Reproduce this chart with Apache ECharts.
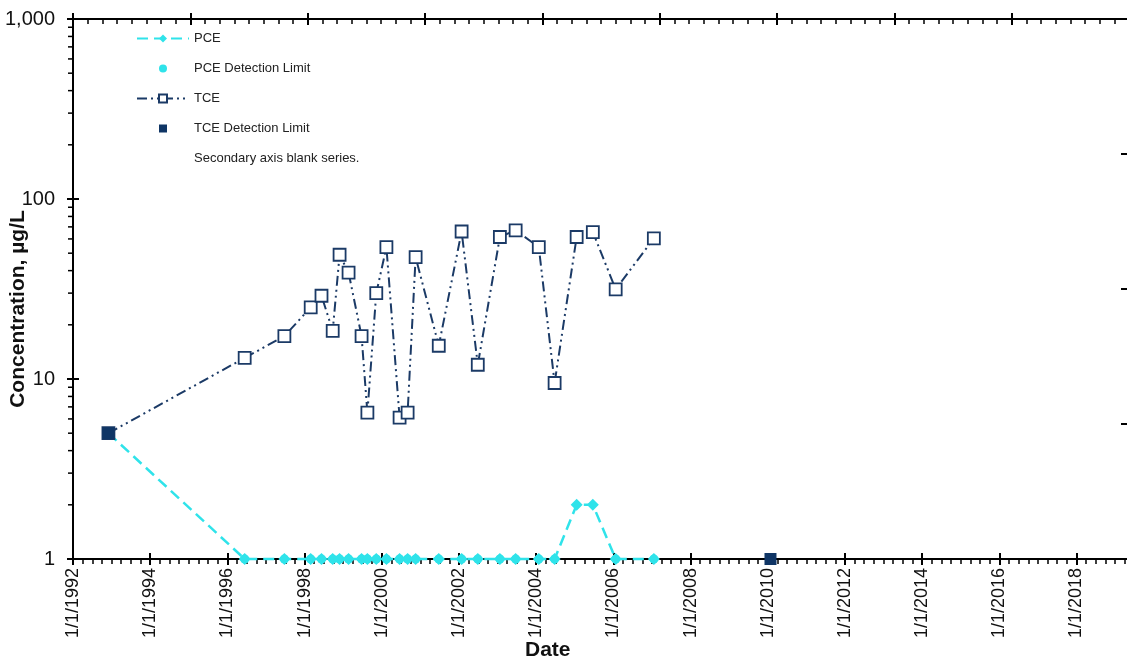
<!DOCTYPE html>
<html>
<head>
<meta charset="utf-8">
<script src="https://cdn.jsdelivr.net/npm/echarts/dist/echarts.min.js"></script>
<style>
html,body{margin:0;padding:0;background:#fff;}
#chart{width:1127px;height:667px;}
</style>
</head>
<body>
<div id="chart"></div>
<script>
// ---- data ----
const sampleDates = ['1992-12-02','1996-06-13','1997-06-24','1998-02-28','1998-06-10','1998-09-24',
  '1998-11-28','1999-02-21','1999-06-24','1999-08-18','1999-11-10','2000-02-14','2000-06-18',
  '2000-09-02','2000-11-17','2001-06-24','2002-01-26','2002-06-28','2003-01-23','2003-06-21',
  '2004-01-26','2004-06-24','2005-01-19','2005-06-21','2006-01-23','2007-01-19'];
const tceValues = [5, 13.1, 17.3, 25, 29, 18.5, 49, 39, 17.3, 6.5, 30, 54, 6.1, 6.5, 47.5,
  15.3, 66, 12, 61.5, 67, 54, 9.5, 61.5, 65.5, 31.5, 60.5];
const pceValues = [5, 1, 1, 1, 1, 1, 1, 1, 1, 1, 1, 1, 1, 1, 1, 1, 1, 1, 1, 1, 1, 1,
  2, 2, 1, 1];
const pceDetectionLimitDates = ['1992-12-02','1996-06-13','1997-06-24','1998-02-28','1998-06-10',
  '1998-09-24','1998-11-28','1999-02-21','1999-06-24','1999-08-18','1999-11-10','2000-02-14',
  '2000-06-18','2000-09-02','2000-11-17','2001-06-24','2002-01-26','2002-06-28','2003-01-23',
  '2003-06-21','2004-01-26','2004-06-24','2006-01-23','2007-01-19','2010-01-27'];
const pceDetectionLimitValues = [5, 1, 1, 1, 1, 1, 1, 1, 1, 1, 1, 1, 1, 1, 1, 1, 1, 1, 1, 1,
  1, 1, 1, 1, 1];
const tceDetectionLimitDates = ['1992-12-02','2010-01-27'];
const tceDetectionLimitValues = [5, 1];
const xTickYears = [1992,1994,1996,1998,2000,2002,2004,2006,2008,2010,2012,2014,2016,2018];
const xAxisStartYear = 1992;
const xAxisEndYear = 2019.36;
const yMin = 1, yMax = 1000;
const logMinorTickValues = [2,3,4,5,6,7,8,9,20,30,40,50,60,70,80,90,200,300,400,500,600,700,800,900];
const seriesNames = ['PCE','PCE Detection Limit','TCE','TCE Detection Limit','Secondary axis blank series.'];
const yAxisTitle = 'Concentration, µg/L';
const xAxisTitle = 'Date';

// ---- helpers ----
function toYear(s){
  const d = Date.parse(s + 'T00:00:00Z');
  const y = new Date(d).getUTCFullYear();
  const a = Date.UTC(y,0,1), b = Date.UTC(y+1,0,1);
  return y + (d - a) / (b - a);
}
function pairs(dates, vals){ return dates.map((d,i)=>[toYear(d), vals[i]]); }

const CYAN = '#2FE3EA';
const NAVY = '#1B3A66';
const NAVY_FILL = '#0F3565';
const FONT = 'Liberation Sans, Arial, sans-serif';

const chart = echarts.init(document.getElementById('chart'), null, {renderer:'canvas'});

const xCommon = {type:'value', min:xAxisStartYear, max:xAxisEndYear, interval:2, splitLine:{show:false}};

const option = {
  backgroundColor:'#fff',
  animation:false,
  grid:{left:73, top:19, width:1056, height:540, containLabel:false, outerBoundsMode:'none'},
  legend:{
    orient:'vertical', left:131, top:27, itemWidth:52, itemHeight:10, itemGap:17,
    selectedMode:false,
    textStyle:{fontFamily:FONT, fontSize:13, color:'#222'},
    data: seriesNames.map(n => n === 'Secondary axis blank series.' ?
      {name:n, itemStyle:{opacity:0}, lineStyle:{opacity:0}} : {name:n})
  },
  xAxis:[
    Object.assign({}, xCommon, {
      position:'bottom',
      axisLine:{show:true, onZero:false, lineStyle:{color:'#000', width:2}},
      axisTick:{show:true, inside:false, length:6, lineStyle:{color:'#000', width:2}},
      minorTick:{show:true, splitNumber:8, length:5, lineStyle:{color:'#000', width:1.5}},
      axisLabel:{rotate:90, margin:9, fontFamily:FONT, fontSize:18, color:'#111',
        formatter: v => xTickYears.indexOf(Math.round(v)) >= 0 && Math.abs(v - Math.round(v)) < 1e-6 ? '1/1/' + Math.round(v) : ''}
    }),
    Object.assign({}, xCommon, {
      position:'bottom',
      axisLine:{show:false, onZero:false},
      axisTick:{show:true, inside:true, length:6, lineStyle:{color:'#000', width:2}},
      axisLabel:{show:false}
    }),
    {type:'value', min:0, max:9, interval:1, position:'top', splitLine:{show:false},
      axisLine:{show:true, onZero:false, lineStyle:{color:'#000', width:2}},
      axisTick:{show:true, inside:true, length:6, lineStyle:{color:'#000', width:2}},
      minorTick:{show:true, splitNumber:8, length:5, lineStyle:{color:'#000', width:1.5}},
      axisLabel:{show:false}},
    {type:'value', min:0, max:9, interval:1, position:'top', splitLine:{show:false},
      axisLine:{show:false, onZero:false},
      axisTick:{show:true, inside:false, length:6, lineStyle:{color:'#000', width:2}},
      axisLabel:{show:false}}
  ],
  yAxis:[
    {type:'log', logBase:10, min:yMin, max:yMax, position:'left', splitLine:{show:false},
      axisLine:{show:true, onZero:false, lineStyle:{color:'#000', width:2}},
      axisTick:{show:true, inside:false, length:6, lineStyle:{color:'#000', width:2}},
      axisLabel:{margin:18, fontFamily:FONT, fontSize:20, color:'#111',
        formatter: v => Math.round(v).toLocaleString('en-US')}},
    {type:'log', logBase:10, min:yMin, max:yMax, position:'left', splitLine:{show:false},
      axisLine:{show:false, onZero:false},
      axisTick:{show:true, inside:true, length:6, lineStyle:{color:'#000', width:2}},
      axisLabel:{show:false}},
    {type:'value', min:0, max:4, interval:1, position:'right', splitLine:{show:false},
      axisLine:{show:false, onZero:false},
      axisTick:{show:true, inside:true, length:8, lineStyle:{color:'#000', width:2}},
      axisLabel:{show:false}}
  ],
  graphic:[
    {type:'text', left:525, top:640, style:{text:xAxisTitle, font:'bold 21px ' + FONT, fill:'#111'}},
    {type:'text', x:18, y:309, rotation:Math.PI/2,
      style:{text:yAxisTitle, font:'bold 21px ' + FONT, fill:'#111', align:'center', verticalAlign:'middle'}}
  ],
  series:[
    {
      name:'log minor ticks', type:'custom', xAxisIndex:0, yAxisIndex:0, silent:true, clip:false, z:1,
      data: logMinorTickValues.map(v => [xAxisStartYear, v]),
      renderItem:(params, api) => {
        const p = api.coord([api.value(0), api.value(1)]);
        return {type:'line', shape:{x1:p[0]-5, y1:p[1], x2:p[0], y2:p[1]},
          style:{stroke:'#000', lineWidth:1.5}};
      },
      tooltip:{show:false}
    },
    {
      name:'PCE Detection Limit', type:'line', xAxisIndex:0, yAxisIndex:0, clip:false, z:2,
      data: pairs(pceDetectionLimitDates, pceDetectionLimitValues),
      symbol:'circle', symbolSize:9, showAllSymbol:true,
      lineStyle:{opacity:0, width:0, color:CYAN},
      itemStyle:{color:CYAN, borderWidth:0}
    },
    {
      name:'PCE', type:'line', xAxisIndex:0, yAxisIndex:0, clip:false, z:3,
      data: pairs(sampleDates, pceValues),
      symbol:'diamond', symbolSize:12, showAllSymbol:true,
      lineStyle:{color:CYAN, width:2.5, type:[11,6]},
      itemStyle:{color:CYAN, borderWidth:0}
    },
    {
      name:'TCE', type:'line', xAxisIndex:0, yAxisIndex:0, clip:false, z:4,
      data: pairs(sampleDates, tceValues),
      symbol:'rect', symbolSize:12, showAllSymbol:true,
      lineStyle:{color:NAVY, width:2, type:[10,4,2,4,2,4]},
      itemStyle:{color:'#fff', borderColor:NAVY, borderWidth:1.8}
    },
    {
      name:'TCE Detection Limit', type:'line', xAxisIndex:0, yAxisIndex:0, clip:false, z:5,
      data: pairs(tceDetectionLimitDates, tceDetectionLimitValues),
      symbol:'rect', symbolSize:12, showAllSymbol:true,
      lineStyle:{opacity:0, width:0, color:NAVY_FILL},
      itemStyle:{color:NAVY_FILL, borderWidth:0}
    },
    {
      name:'Secondary axis blank series.', type:'line', xAxisIndex:2, yAxisIndex:2,
      data:[], symbol:'none',
      lineStyle:{color:'rgba(0,0,0,0)'}, itemStyle:{color:'rgba(0,0,0,0)'}
    }
  ]
};
chart.setOption(option);
</script>
</body>
</html>
